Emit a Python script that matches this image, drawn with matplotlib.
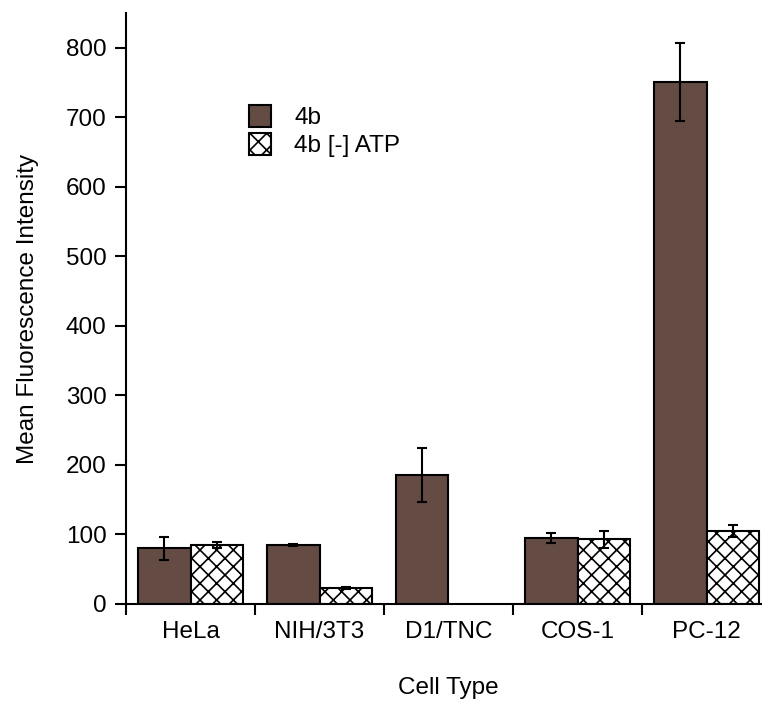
import matplotlib
matplotlib.use("Agg")
import matplotlib.pyplot as plt
import numpy as np

plt.rcParams['font.family'] = ['Liberation Sans', 'DejaVu Sans']
plt.rcParams['hatch.linewidth'] = 1.2

categories = ["HeLa", "NIH/3T3", "D1/TNC", "COS-1", "PC-12"]
series_names = ["4b", "4b [-] ATP"]
vals_4b = [80, 85, 186, 95, 751]
err_4b = [17, 2, 39, 7, 56]
vals_atp = [85, 23, np.nan, 93, 105]
err_atp = [4, 2, np.nan, 12, 8]
yticks = [0, 100, 200, 300, 400, 500, 600, 700, 800]

brown = '#644b44'
fs = 17.5

fig = plt.figure(figsize=(7.62, 7.02), dpi=100)
ax = fig.add_axes([126/762, 98/702, (771-126)/762, (604-13)/702])

x = np.arange(len(categories))
w = 0.407
ax.bar(x - w/2, vals_4b, w, color=brown, edgecolor='black', linewidth=1.5,
       label=series_names[0], zorder=2)
ax.bar(x + w/2, vals_atp, w, color='white', edgecolor='black', linewidth=1.5,
       hatch='xx', label=series_names[1], zorder=2)
ax.errorbar(x - w/2, vals_4b, yerr=err_4b, fmt='none', ecolor='black',
            elinewidth=1.5, capsize=3.5, capthick=1.5, zorder=3)
ax.errorbar(x + w/2, vals_atp, yerr=err_atp, fmt='none', ecolor='black',
            elinewidth=1.5, capsize=3.5, capthick=1.5, zorder=3)

ax.set_xlim(-0.5, len(categories) - 0.5)
ax.set_ylim(0, 850)
ax.set_yticks(yticks)
ax.set_yticklabels([str(v) for v in yticks], fontsize=fs)
ax.set_xticks(np.arange(len(categories) + 1) - 0.5)
ax.set_xticklabels([])
ax.set_xticks(x, minor=True)
ax.set_xticklabels(categories, minor=True, fontsize=fs)
ax.tick_params(axis='x', which='minor', length=0, pad=12)
ax.tick_params(axis='x', which='major', length=8, width=1.5, direction='out')
ax.tick_params(axis='y', length=8, width=1.5, direction='out', pad=6)

for s in ['top', 'right']:
    ax.spines[s].set_visible(False)
for s in ['left', 'bottom']:
    ax.spines[s].set_linewidth(1.5)
ax.spines['bottom'].set_clip_on(False)

ax.set_ylabel("Mean Fluorescence Intensity", fontsize=fs, labelpad=19)
ax.set_xlabel("Cell Type", fontsize=fs, labelpad=25)

leg = ax.legend(loc='upper left', bbox_to_anchor=(249/762, 1 - 105/702),
                bbox_transform=fig.transFigure, frameon=False, fontsize=fs,
                handlelength=0.92, handleheight=1.0, handletextpad=0.95,
                labelspacing=0.15, borderpad=0, borderaxespad=0)

fig.savefig("out.png", dpi=100)
